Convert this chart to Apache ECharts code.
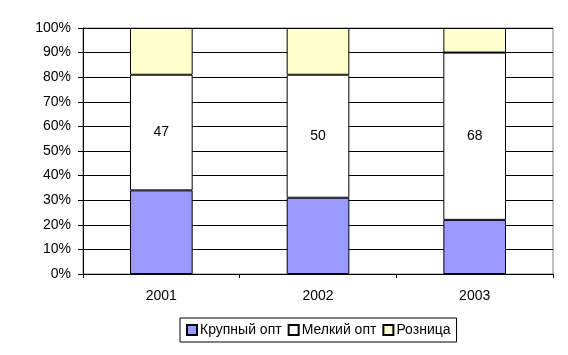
<!DOCTYPE html>
<html><head><meta charset="utf-8">
<script src="https://cdn.jsdelivr.net/npm/echarts@6/dist/echarts.min.js"></script>
<style>html,body{margin:0;padding:0;background:#fff}#c{width:568px;height:355px}</style>
</head><body><div id="c"></div>
<script>
const categories = ['2001', '2002', '2003'];
const bigWholesale = [34, 31, 22];
const smallWholesale = [47, 50, 68];
const retail = [19, 19, 10];
const yTicks = ['0%','10%','20%','30%','40%','50%','60%','70%','80%','90%','100%'];

const chart = echarts.init(document.getElementById('c'));
const font = 'Liberation Sans, Arial, sans-serif';
const barStyle = c => ({color: c, borderColor: '#000', borderWidth: 1});
chart.setOption({
  animation: false,
  textStyle: {fontFamily: font},
  grid: {left: 83, right: 15, top: 28, bottom: 81, show: true, borderColor: '#808080', borderWidth: 1},
  legend: {
    top: 318, left: 180,
    data: ['Крупный опт', 'Мелкий опт', 'Розница'],
    icon: 'rect', itemWidth: 10, itemHeight: 10, itemGap: 6,
    borderColor: '#000', borderWidth: 1, padding: [5, 6, 5, 6],
    textStyle: {fontFamily: font, fontSize: 14, color: '#000', padding: [0, 0, 0, -2]}
  },
  xAxis: {
    type: 'category', data: categories,
    axisLine: {lineStyle: {color: '#000'}},
    axisTick: {show: true, length: 4, lineStyle: {color: '#000'}},
    axisLabel: {color: '#000', fontSize: 14, fontFamily: font, margin: 15}
  },
  yAxis: {
    type: 'value', min: 0, max: 100, interval: 10,
    axisLine: {show: true, lineStyle: {color: '#000'}},
    axisTick: {show: true, length: 5, lineStyle: {color: '#000'}},
    splitLine: {lineStyle: {color: '#000'}},
    axisLabel: {color: '#000', fontSize: 14, fontFamily: font, margin: 12,
      formatter: (v) => yTicks[Math.round(v / 10)]}
  },
  series: [
    {name: 'Крупный опт', type: 'bar', stack: 's', barWidth: '40%', data: bigWholesale, itemStyle: barStyle('#9999ff')},
    {name: 'Мелкий опт', type: 'bar', stack: 's', data: smallWholesale, itemStyle: barStyle('#ffffff'),
      label: {show: true, position: 'inside', color: '#000', fontSize: 14, fontFamily: font}},
    {name: 'Розница', type: 'bar', stack: 's', data: retail, itemStyle: barStyle('#ffffcc')}
  ]
});
</script></body></html>
